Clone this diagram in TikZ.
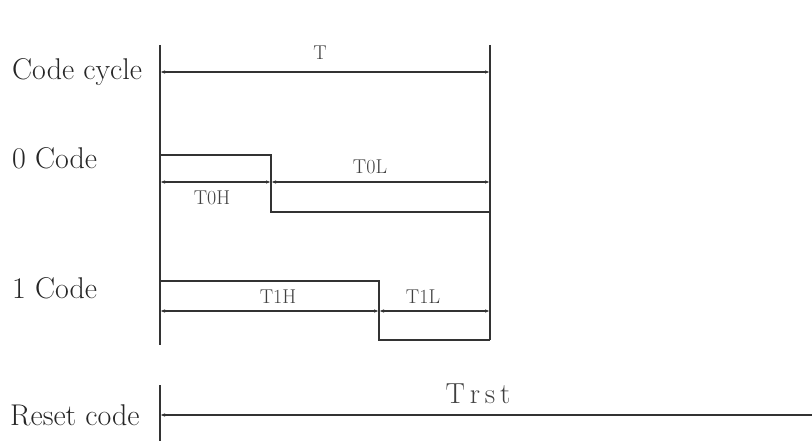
\documentclass[tikz,border=0pt]{standalone}
\usetikzlibrary{arrows.meta}
\begin{document}
\begin{tikzpicture}[x=1pt,y=-1pt,
  wave/.style={draw=black!80, line width=1.3pt},
  dim/.style={draw=black!80, line width=1.1pt, {Latex[length=5pt,width=3.5pt]}-{Latex[length=5pt,width=3.5pt]}},
  rowlabel/.style={anchor=west, font=\fontsize{30}{32}\selectfont, text=black!85, inner sep=0pt},
  dimlabel/.style={font=\fontsize{20}{22}\selectfont, text=black!75, inner sep=0pt}]
\useasboundingbox (0,0) rectangle (812,441);
% guide lines
\coordinate (LT) at (160,45);
\coordinate (LB) at (160,345);
\coordinate (RT) at (490,45);
\coordinate (RB) at (490,340);
\draw[wave] (LT) -- (LB);
\draw[wave] (RT) -- (RB);
% code cycle
\node[rowlabel] (lcc) at (12,72) {Code cycle};
\coordinate (ccA) at (160,72);
\coordinate (ccB) at (490,72);
\draw[dim] (ccA) -- (ccB);
\node[dimlabel] (lT) at (320,53) {T};
% 0 code
\node[rowlabel] (l0) at (12,158) {0 Code};
\coordinate (z1) at (160,155);
\coordinate (z2) at (271,155);
\coordinate (z3) at (271,212);
\coordinate (z4) at (490,212);
\draw[wave] (z1) -- (z2) -- (z3) -- (z4);
\coordinate (d0a) at (160,182);
\coordinate (d0b) at (271,182);
\coordinate (d0c) at (490,182);
\draw[dim] (d0a) -- (d0b);
\draw[dim] (d0b) -- (d0c);
\node[dimlabel] (lT0H) at (212,198) {T0H};
\node[dimlabel] (lT0L) at (370,167) {T0L};
% 1 code
\node[rowlabel] (l1) at (12,288) {1 Code};
\coordinate (o1) at (160,281);
\coordinate (o2) at (379,281);
\coordinate (o3) at (379,340);
\coordinate (o4) at (490,340);
\draw[wave] (o1) -- (o2) -- (o3) -- (o4);
\coordinate (d1a) at (160,311);
\coordinate (d1b) at (379,311);
\coordinate (d1c) at (490,311);
\draw[dim] (d1a) -- (d1b);
\draw[dim] (d1b) -- (d1c);
\node[dimlabel] (lT1H) at (278,297) {T1H};
\node[dimlabel] (lT1L) at (423,297) {T1L};
% reset code
\node[rowlabel] (lrc) at (10,415) {Reset code};
\coordinate (rT) at (160,385);
\coordinate (rB) at (160,441);
\draw[wave] (rT) -- (rB);
\coordinate (rA) at (160,415);
\coordinate (rE) at (812,415);
\draw[draw=black!80, line width=1.1pt, -{Latex[length=5pt,width=3.5pt]}] (rE) -- (rA);
\node[dimlabel, font=\fontsize{29}{31}\selectfont] (lTrst) at (478,394) {T\,r\,s\,t};
\end{tikzpicture}
\end{document}
